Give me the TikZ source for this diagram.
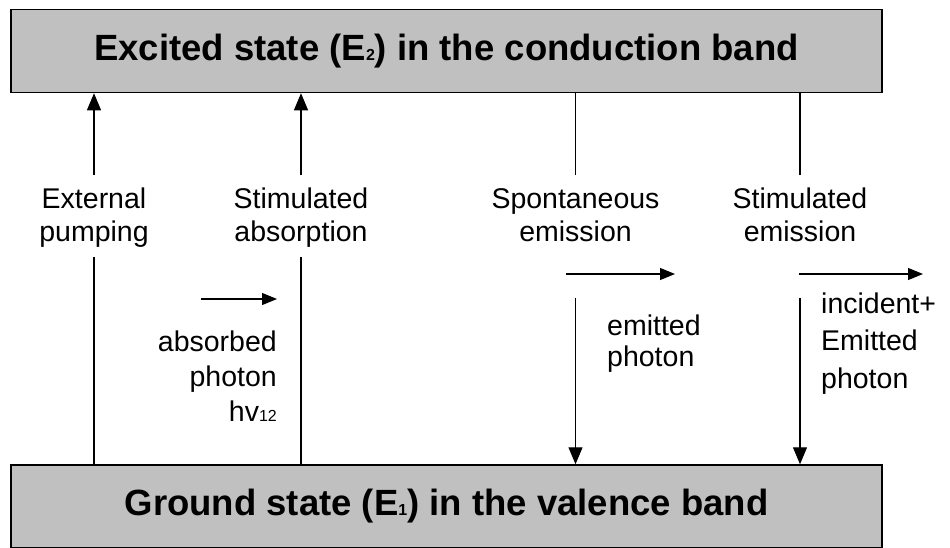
\documentclass[tikz,border=0pt]{standalone}
\usepackage{fontspec}
\setmainfont{Liberation Sans}
\usetikzlibrary{arrows.meta}
\definecolor{bandgray}{HTML}{C0C0C0}
\newcommand{\smallsub}[1]{{\fontsize{16}{16}\selectfont #1}}
\begin{document}
\begin{tikzpicture}[x=1pt,y=-1pt,
  band/.style={draw=black,line width=1.5pt,fill=bandgray,minimum width=871pt,minimum height=83pt,inner sep=0pt,
     font=\fontsize{36.5}{40}\selectfont\bfseries},
  lbl/.style={align=center,inner sep=0pt,anchor=base,font=\fontsize{28.5}{33}\selectfont},
  conn/.style={line width=1.1pt},
  arr/.style={line width=1.1pt,-{Triangle[length=17pt,width=14pt]}},
  harr/.style={line width=1.1pt,-{Triangle[length=15pt,width=12pt]}}]
\useasboundingbox (0,0) rectangle (950,547);
\fill[white] (0,0) rectangle (950,547);

\node[band] (top) at (446.5,51) {Excited state (E\smallsub{2}) in the conduction band};
\node[band] (bot) at (446.5,506.5) {Ground state (E\smallsub{1}) in the valence band};

% labels (base anchor = baseline of the last line)
\node[lbl] (l1) at (94,241.5) {External\\pumping};
\node[lbl] (l2) at (301,241.5) {Stimulated\\absorption};
\node[lbl] (l3) at (575.5,241.5) {Spontaneous\\emission};
\node[lbl] (l4) at (800,241.5) {Stimulated\\emission};

% coordinates for segments
\coordinate (a1t) at (94,175);  \coordinate (a1b) at (94,257);
\coordinate (a2t) at (301,175); \coordinate (a2b) at (301,257);
\coordinate (a3t) at (575.5,175); \coordinate (a3b) at (575.5,298);
\coordinate (a4t) at (800,175); \coordinate (a4b) at (800,298);

\draw[arr] (a1t) -- (a1t |- top.south);
\draw[conn] (a1b) -- (a1b |- bot.north);
\draw[arr] (a2t) -- (a2t |- top.south);
\draw[conn] (a2b) -- (a2b |- bot.north);
\draw[conn] (a3t) -- (a3t |- top.south);
\draw[arr] (a3b) -- (a3b |- bot.north);
\draw[conn] (a4t) -- (a4t |- top.south);
\draw[arr] (a4b) -- (a4b |- bot.north);

% photon arrows
\coordinate (p1s) at (201,299); \coordinate (p1e) at (277,299);
\coordinate (p2s) at (566,274); \coordinate (p2e) at (675,274);
\coordinate (p3s) at (799,274); \coordinate (p3e) at (923,274);
\draw[harr] (p1s) -- (p1e);
\draw[harr] (p2s) -- (p2e);
\draw[harr] (p3s) -- (p3e);

% photon labels
\node[lbl,align=right,anchor=base east,font=\fontsize{28.5}{35}\selectfont] (t1) at (277,421.5) {absorbed\\photon\\hv\smallsub{12}};
\node[lbl,align=left,anchor=base west,font=\fontsize{28.5}{31}\selectfont] (t2) at (607,366.5) {emitted\\photon};
\node[lbl,align=left,anchor=base west,font=\fontsize{28.5}{37.5}\selectfont] (t3) at (821,388) {incident+\\Emitted\\photon};
\end{tikzpicture}
\end{document}
